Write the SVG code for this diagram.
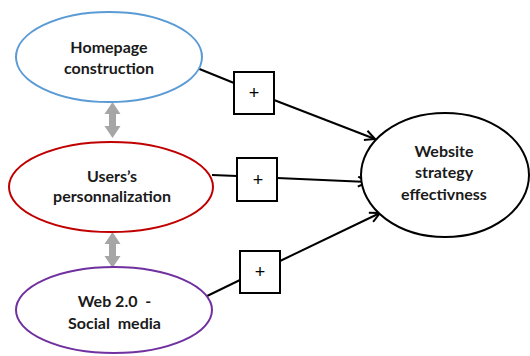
<svg xmlns="http://www.w3.org/2000/svg" width="530" height="356" viewBox="0 0 530 356">
  <defs>
    <marker id="openArrow" viewBox="0 0 12 12" refX="11" refY="6" markerWidth="12" markerHeight="12" markerUnits="userSpaceOnUse" orient="auto">
      <path d="M1,1 L11,6 L1,11" fill="none" stroke="#000" stroke-width="2" stroke-linejoin="miter"/>
    </marker>
    <path id="dblArrow" d="M0,0 L8,12 L3.5,12 L3.5,24 L8,24 L0,36 L-8,24 L-3.5,24 L-3.5,12 L-8,12 Z"/>
  </defs>
  <style>
    .node { fill: #fff; stroke-width: 2; }
    .label { font-family: Lato, "Liberation Sans", Arial, sans-serif; font-weight: bold; font-size: 16px; fill: #1a1a1a; text-anchor: middle; }
    .box { fill: #fff; stroke: #000; stroke-width: 2; }
    .plus { font-family: "Liberation Sans", Arial, sans-serif; font-size: 18px; fill: #000; text-anchor: middle; }
    .link { fill: none; stroke: #000; stroke-width: 2; }
    .gray { fill: #a6a6a6; }
  </style>
  <rect width="530" height="356" fill="#fff"/>

  <!-- connectors -->
  <g id="connectors">
    <line class="link" x1="197" y1="68" x2="234" y2="83"/>
    <line class="link" x1="274" y1="100" x2="375" y2="139" marker-end="url(#openArrow)"/>
    <line class="link" x1="212" y1="175" x2="237" y2="176"/>
    <line class="link" x1="277" y1="178" x2="368" y2="182" marker-end="url(#openArrow)"/>
    <line class="link" x1="205" y1="297" x2="240" y2="280"/>
    <line class="link" x1="280" y1="261" x2="380" y2="213" marker-end="url(#openArrow)"/>
    <use href="#dblArrow" class="gray" transform="translate(112.5,102)"/>
    <use href="#dblArrow" class="gray" transform="translate(112.5,232)"/>
  </g>

  <g id="homepage">
    <ellipse class="node" cx="109" cy="57" rx="93" ry="45" stroke="#5b9bd5"/>
    <text class="label" x="109" y="53">Homepage</text>
    <text class="label" x="109" y="74">construction</text>
  </g>

  <g id="users">
    <ellipse class="node" cx="111" cy="187" rx="102" ry="45" stroke="#c00000"/>
    <text class="label" x="112" y="182">Users’s</text>
    <text class="label" x="112" y="202">personnalization</text>
  </g>

  <g id="web20">
    <ellipse class="node" cx="114" cy="310" rx="98" ry="43" stroke="#7030a0"/>
    <text class="label" x="114.5" y="307" xml:space="preserve">Web 2.0  -</text>
    <text class="label" x="114.5" y="329" xml:space="preserve">Social  media</text>
  </g>

  <g id="website">
    <ellipse class="node" cx="445" cy="175" rx="84" ry="62" stroke="#000"/>
    <text class="label" x="444" y="157">Website</text>
    <text class="label" x="444" y="178">strategy</text>
    <text class="label" x="444" y="200">effectivness</text>
  </g>

  <g id="sign1">
    <rect class="box" x="234" y="72" width="40" height="42"/>
    <text class="plus" x="254" y="99">+</text>
  </g>
  <g id="sign2">
    <rect class="box" x="237" y="158" width="40" height="43"/>
    <text class="plus" x="258" y="186">+</text>
  </g>
  <g id="sign3">
    <rect class="box" x="240" y="251" width="40" height="42"/>
    <text class="plus" x="260" y="278">+</text>
  </g>
</svg>
